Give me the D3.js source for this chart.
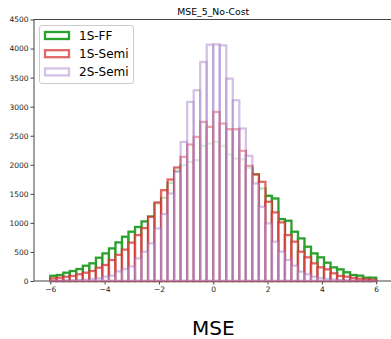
<!DOCTYPE html>
<html>
<head>
<meta charset="utf-8">
<script src="https://cdn.jsdelivr.net/npm/d3@7"></script>
<style>
  body { margin: 0; background: #fff; }
  svg { display: block; font-family: "DejaVu Sans", sans-serif; }
</style>
</head>
<body>
<div id="chart-container"></div>
<script>
// bin edges of the histogram (50 bins)
var binEdges = [-6, -5.76, -5.52, -5.28, -5.04, -4.8, -4.56, -4.32, -4.08, -3.84,
    -3.6, -3.36, -3.12, -2.88, -2.64, -2.4, -2.16, -1.92, -1.68, -1.44,
    -1.2, -0.96, -0.72, -0.48, -0.24, 0, 0.24, 0.48, 0.72, 0.96,
    1.2, 1.44, 1.68, 1.92, 2.16, 2.4, 2.64, 2.88, 3.12, 3.36,
    3.6, 3.84, 4.08, 4.32, 4.56, 4.8, 5.04, 5.28, 5.52, 5.76, 6];

var seriesNames = ['1S-FF', '1S-Semi', '2S-Semi'];

var ffCounts = [90, 103, 143, 172, 206, 263, 304, 401, 475, 561,
    664, 762, 848, 930, 1025, 1108, 1335, 1432, 1690, 1896,
    1990, 2050, 2079, 2325, 2365, 2394, 2325, 2176, 2108, 2096,
    1947, 1833, 1592, 1466, 1420, 1065, 1037, 848, 733, 590,
    475, 407, 315, 235, 200, 150, 103, 92, 57, 57];

var semiCounts = [46, 57, 74, 86, 115, 143, 172, 229, 275, 360,
    450, 540, 660, 790, 910, 1105, 1352, 1563, 1747, 1953,
    2136, 2348, 2480, 2738, 2652, 2909, 2709, 2612, 2612, 2239,
    1982, 1833, 1707, 1363, 1180, 1008, 790, 676, 504, 407,
    304, 235, 200, 132, 86, 74, 52, 40, 28, 20];

var twoSemiCounts = [4, 6, 8, 11, 15, 20, 34, 46, 74, 90,
    165, 205, 250, 389, 504, 647, 905, 1151, 1506, 1879,
    2394, 3081, 3282, 3769, 4067, 4072, 4055, 3482, 3110, 2623,
    2153, 1678, 1277, 991, 676, 504, 361, 263, 160, 115,
    74, 50, 35, 25, 15, 10, 8, 5, 3, 2];

var xTicks = [-6, -4, -2, 0, 2, 4, 6];
var yTicks = [0, 500, 1000, 1500, 2000, 2500, 3000, 3500, 4000, 4500];

var colors = ['#2ca02c', '#d62728', '#9467bd'];
var alphas = [1, 0.7, 0.4];

var margins = { top: 19.5, left: 34, bottom: 58, right: -1.5 };
var W = 391, H = 339;

var x = d3.scaleLinear()
    .domain([-6.6, 6.6])
    .range([margins.left, W - margins.right]);

var y = d3.scaleLinear()
    .domain([0, 4500])
    .range([H - margins.bottom, margins.top]);

var svg = d3.select('#chart-container')
    .append('svg')
        .attr('width', W)
        .attr('height', H);

svg.append('text')
    .attr('x', (x.range()[0] + x.range()[1]) / 2)
    .attr('y', 15)
    .attr('text-anchor', 'middle')
    .style('font-size', '9.3px')
    .text('MSE_5_No-Cost');

// frame
svg.append('rect')
    .attr('x', x.range()[0])
    .attr('y', y.range()[1])
    .attr('width', x.range()[1] - x.range()[0])
    .attr('height', y.range()[0] - y.range()[1])
    .attr('fill', 'none')
    .attr('stroke', '#444')
    .attr('stroke-width', 1);

var xAxis = d3.axisBottom(x)
    .tickValues(xTicks)
    .tickSize(3.5)
    .tickPadding(2)
    .tickFormat(d3.format('d'));

var yAxis = d3.axisLeft(y)
    .tickValues(yTicks)
    .tickSize(3.5)
    .tickPadding(2)
    .tickFormat(d3.format('d'));

var gx = svg.append('g')
    .attr('transform', 'translate(0,' + y.range()[0] + ')')
    .call(xAxis);
var gy = svg.append('g')
    .attr('transform', 'translate(' + x.range()[0] + ',0)')
    .call(yAxis);

[gx, gy].forEach(function (g) {
    g.select('.domain').remove();
    g.selectAll('line').attr('stroke', '#444');
    g.selectAll('text')
        .attr('fill', '#222')
        .style('font-size', '7.5px')
        .style('font-family', '"DejaVu Sans", sans-serif');
});

// histogram bars, drawn in order, white fill with the series alpha
var allCounts = [ffCounts, semiCounts, twoSemiCounts];
allCounts.forEach(function (counts, s) {
    var g = svg.append('g');
    g.selectAll('rect')
        .data(counts)
        .enter().append('rect')
            .attr('x', function (d, i) { return x(binEdges[i]); })
            .attr('y', function (d) { return y(d); })
            .attr('width', function (d, i) { return x(binEdges[i + 1]) - x(binEdges[i]); })
            .attr('height', function (d) { return y(0) - y(d); })
            .attr('fill', '#fff')
            .attr('fill-opacity', alphas[s])
            .attr('stroke', colors[s])
            .attr('stroke-opacity', alphas[s])
            .attr('stroke-width', 2.3);
});

// legend
var legend = svg.append('g');
legend.append('rect')
    .attr('x', 39.5)
    .attr('y', 25.5)
    .attr('width', 94)
    .attr('height', 58)
    .attr('rx', 2.5)
    .attr('fill', '#fff')
    .attr('fill-opacity', 0.8)
    .attr('stroke', '#ccc')
    .attr('stroke-width', 1);

seriesNames.forEach(function (name, i) {
    var cy = 35.5 + i * 18.2;
    legend.append('rect')
        .attr('x', 45)
        .attr('y', cy - 3.5)
        .attr('width', 24)
        .attr('height', 7)
        .attr('fill', '#fff')
        .attr('stroke', colors[i])
        .attr('stroke-opacity', alphas[i])
        .attr('stroke-width', 2.3);
    legend.append('text')
        .attr('x', 79)
        .attr('y', cy)
        .attr('dy', '0.36em')
        .style('font-size', '12px')
        .text(name);
});

svg.append('text')
    .attr('x', (x.range()[0] + x.range()[1]) / 2)
    .attr('y', 335)
    .attr('text-anchor', 'middle')
    .style('font-size', '20px')
    .text('MSE');
</script>
</body>
</html>
